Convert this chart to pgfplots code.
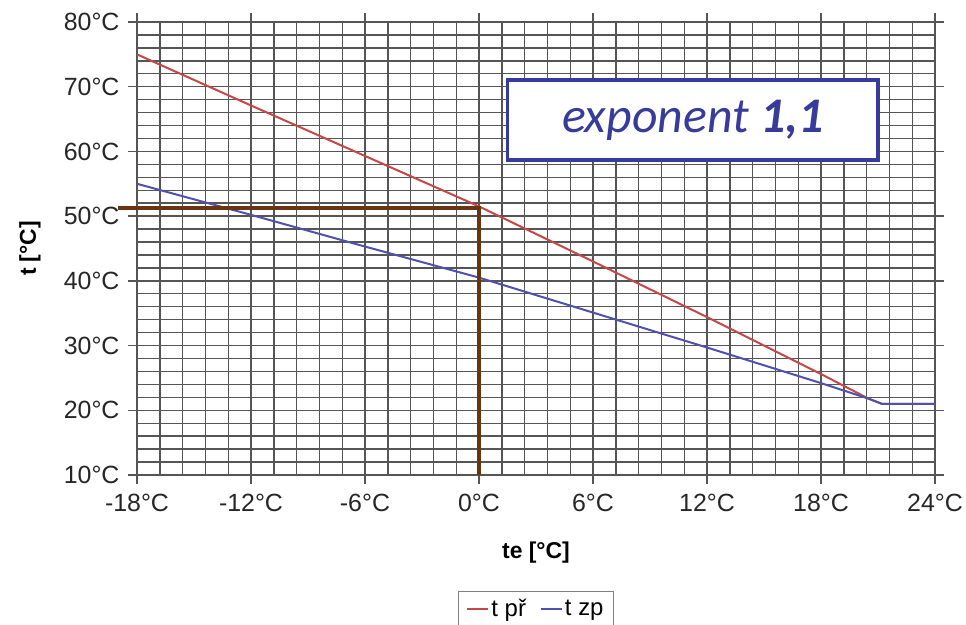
\documentclass[border=0pt]{standalone}
\usepackage{pgfplots}
\pgfplotsset{compat=1.18}
\usepackage{fontspec}
\setmainfont{Liberation Sans}
\newfontfamily\calibri{Carlito}
\definecolor{cred}{RGB}{200,70,70}
\definecolor{cblue}{RGB}{80,80,175}
\definecolor{cbrown}{RGB}{105,52,18}
\definecolor{boxblue}{RGB}{55,60,155}
\definecolor{gridgray}{RGB}{85,85,85}
\begin{document}
\begin{tikzpicture}
\useasboundingbox (0,0) rectangle (966bp,625bp);
\begin{axis}[
  at={(137bp,150bp)}, anchor=south west,
  width=798bp, height=453bp, scale only axis,
  xmin=-18, xmax=24, ymin=10, ymax=80,
  xtick={-18,-12,...,24},
  xticklabels={-18°C,-12°C,-6°C,0°C,6°C,12°C,18°C,24°C},
  ytick={10,20,...,80},
  yticklabels={10°C,20°C,30°C,40°C,50°C,60°C,70°C,80°C},
  minor x tick num=4, minor y tick num=4,
  grid=both,
  major grid style={gridgray, line width=1.4bp},
  minor grid style={gridgray, line width=1.4bp},
  axis line style={gridgray, line width=1.4bp},
  tick align=outside, major tick length=9bp, minor tick length=0pt,
  tick style={gridgray, line width=1.4bp},
  ticklabel style={font=\fontsize{25}{29}\selectfont, text=black!85},
  xticklabel style={yshift=-7bp},
  yticklabel style={xshift=-5bp},
  xlabel={\bfseries te [°C]}, ylabel={\bfseries t [°C]},
  label style={font=\fontsize{23}{27}\selectfont},
  xlabel style={at={(axis description cs:0.5,-0.172)}, anchor=center},
  ylabel style={at={(axis description cs:-0.134,0.5)}, anchor=center},
  clip=false,
  legend image code/.code={\draw[#1, line width=2bp] (0bp,0bp) -- (21bp,0bp);},
  legend style={at={(axis description cs:0.5,-0.256)}, anchor=north, draw=gray, line width=1.2bp,
    inner xsep=8bp, inner ysep=6bp,
    font=\fontsize{24}{28}\selectfont, legend columns=2,
    /tikz/every even column/.append style={column sep=12bp}},
]
\addplot[cred, line width=2bp] coordinates {
 (-18,75) (-12,67.1) (-6,59.3) (0,51.5) (6,43.0) (12,34.4) (18,25.6) (20.5,21.8) (21.2,21.0) (24,21.0)};
\addlegendentry{t př}
\addplot[cblue, line width=2bp] coordinates {
 (-18,55) (-12,50.2) (-6,45.3) (0,40.5) (6,35.1) (12,29.7) (18,24.2) (20.5,21.8) (21.2,21.0) (24,21.0)};
\addlegendentry{t zp}
\addplot[cbrown, line width=4bp, forget plot] coordinates {(-19,51.2) (0,51.2) (0,10)};
\draw[boxblue, line width=3.5bp, fill=white] (axis cs:1.5,71) rectangle (axis cs:21,58.7);
\node[text=boxblue, font=\calibri\fontsize{50}{56}\selectfont] at (axis cs:11.25,64.85) {\itshape exponent \bfseries 1,1};
\end{axis}
\end{tikzpicture}
\end{document}
